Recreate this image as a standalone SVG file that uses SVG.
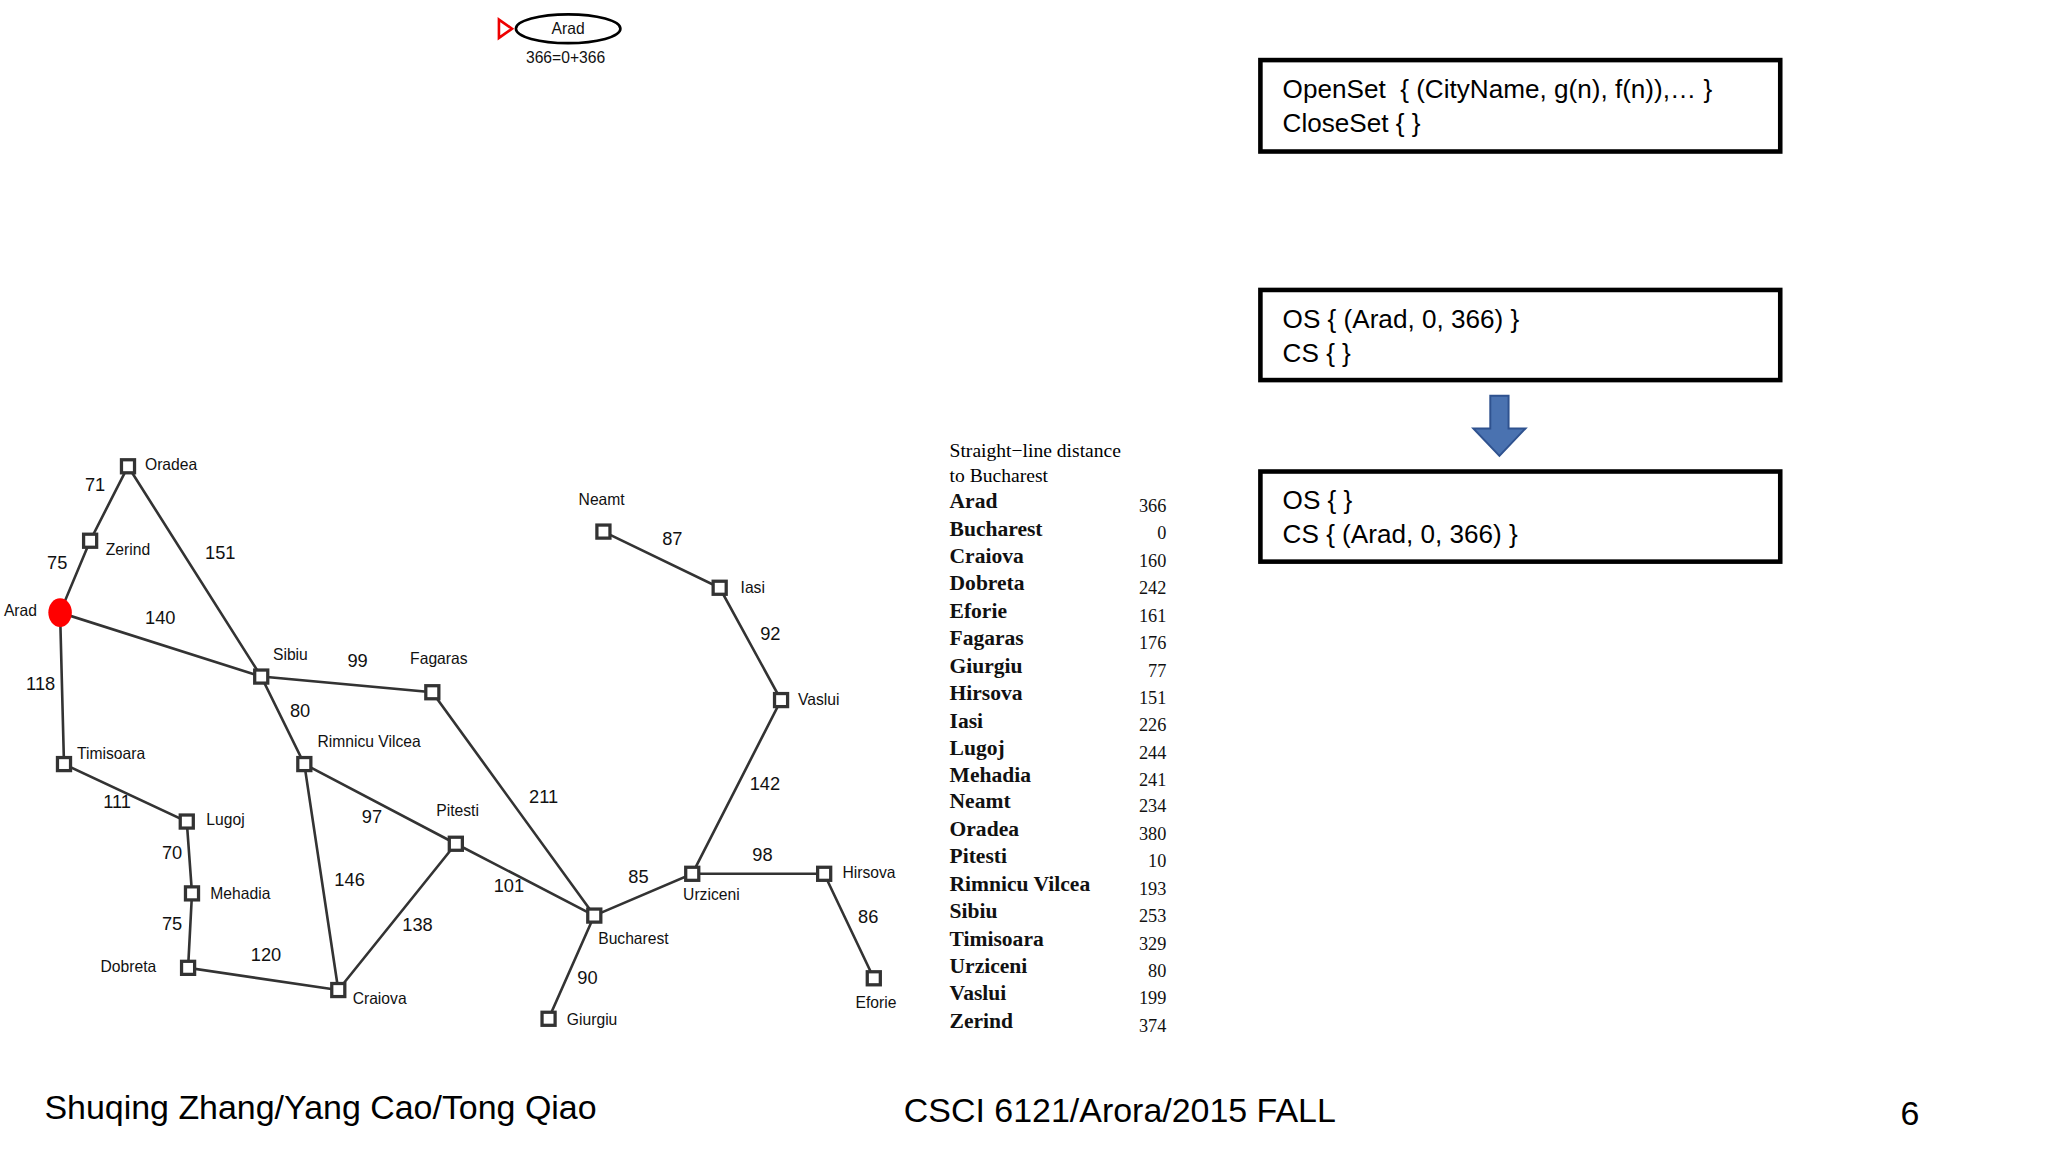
<svg xmlns="http://www.w3.org/2000/svg" width="2048" height="1152" viewBox="0 0 2048 1152">
<style>
.e{stroke:#333;stroke-width:2;fill:none}
.n{fill:#fff;stroke:#333;stroke-width:2.5}
.c{font-family:"Liberation Sans",Arial,sans-serif;font-size:12px;fill:#111}
.w{font-family:"Liberation Sans",Arial,sans-serif;font-size:14px;fill:#111}
.t{font-family:"Liberation Serif",serif;font-size:16.5px;font-weight:bold;fill:#111}
.v{font-family:"Liberation Serif",serif;font-size:14px;fill:#111;text-anchor:end}
.b{fill:#fff;stroke:#000;stroke-width:3.5}
.bt{font-family:"Liberation Sans",Arial,sans-serif;font-size:20px;fill:#000}
.f{font-family:"Liberation Sans",Arial,sans-serif;font-size:26px;fill:#000}
</style>
<rect width="2048" height="1152" fill="#fff"/>
<g transform="scale(1.30612)">
<g id="connectors">
<path class="e" d="M98,357L69,414L46,469L200,518L98,357M46,469L49,585L143,629L147,684L144,741L259,758L233,585L200,518L331,530L455,701L349,646L233,585M349,646L259,758M455,701L420,780M455,701L530,669L631,669L669,749M530,669L598,536L551,450L462,407"/>
</g>
<g id="edge-labels" class="w">
<text x="65" y="376">71</text><text x="36" y="436">75</text><text x="157" y="428">151</text>
<text x="111" y="478">140</text><text x="20" y="528">118</text><text x="266" y="511">99</text>
<text x="222" y="549">80</text><text x="79" y="619">111</text><text x="124" y="658">70</text>
<text x="124" y="712">75</text><text x="192" y="736">120</text><text x="256" y="678">146</text>
<text x="277" y="630">97</text><text x="308" y="713">138</text><text x="405" y="615">211</text>
<text x="378" y="683">101</text><text x="481" y="676">85</text><text x="442" y="753">90</text>
<text x="576" y="659">98</text><text x="657" y="707">86</text><text x="574" y="605">142</text>
<text x="582" y="490">92</text><text x="507" y="417">87</text>
</g>
<g id="cities">
<rect class="n" x="93" y="352" width="10" height="10"/><text class="c" x="111" y="360">Oradea</text>
<rect class="n" x="64" y="409" width="10" height="10"/><text class="c" x="81" y="425">Zerind</text>
<ellipse cx="46" cy="469" rx="9" ry="11" fill="#f00"/><text class="c" x="3" y="472">Arad</text>
<rect class="n" x="195" y="513" width="10" height="10"/><text class="c" x="209" y="505">Sibiu</text>
<rect class="n" x="326" y="525" width="10" height="10"/><text class="c" x="314" y="508">Fagaras</text>
<rect class="n" x="44" y="580" width="10" height="10"/><text class="c" x="59" y="581">Timisoara</text>
<rect class="n" x="228" y="580" width="10" height="10"/><text class="c" x="243" y="572">Rimnicu Vilcea</text>
<rect class="n" x="138" y="624" width="10" height="10"/><text class="c" x="158" y="632">Lugoj</text>
<rect class="n" x="344" y="641" width="10" height="10"/><text class="c" x="334" y="625">Pitesti</text>
<rect class="n" x="142" y="679" width="10" height="10"/><text class="c" x="161" y="688">Mehadia</text>
<rect class="n" x="139" y="736" width="10" height="10"/><text class="c" x="77" y="744">Dobreta</text>
<rect class="n" x="254" y="753" width="10" height="10"/><text class="c" x="270" y="769">Craiova</text>
<rect class="n" x="450" y="696" width="10" height="10"/><text class="c" x="458" y="723">Bucharest</text>
<rect class="n" x="415" y="775" width="10" height="10"/><text class="c" x="434" y="785">Giurgiu</text>
<rect class="n" x="525" y="664" width="10" height="10"/><text class="c" x="523" y="689">Urziceni</text>
<rect class="n" x="626" y="664" width="10" height="10"/><text class="c" x="645" y="672">Hirsova</text>
<rect class="n" x="664" y="744" width="10" height="10"/><text class="c" x="655" y="772">Eforie</text>
<rect class="n" x="593" y="531" width="10" height="10"/><text class="c" x="611" y="540">Vaslui</text>
<rect class="n" x="546" y="445" width="10" height="10"/><text class="c" x="567" y="454">Iasi</text>
<rect class="n" x="457" y="402" width="10" height="10"/><text class="c" x="443" y="387">Neamt</text>
</g>
<g id="sld-table">
<text x="727" y="350" style="font-family:'Liberation Serif',serif;font-size:15px">Straight−line distance</text>
<text x="727" y="369" style="font-family:'Liberation Serif',serif;font-size:15px">to Bucharest</text>
<g class="t">
<text x="727" y="389">Arad</text><text x="727" y="410">Bucharest</text><text x="727" y="431">Craiova</text><text x="727" y="452">Dobreta</text><text x="727" y="473">Eforie</text><text x="727" y="494">Fagaras</text><text x="727" y="515">Giurgiu</text><text x="727" y="536">Hirsova</text><text x="727" y="557">Iasi</text><text x="727" y="578">Lugoj</text><text x="727" y="599">Mehadia</text><text x="727" y="619">Neamt</text><text x="727" y="640">Oradea</text><text x="727" y="661">Pitesti</text><text x="727" y="682">Rimnicu Vilcea</text><text x="727" y="703">Sibiu</text><text x="727" y="724">Timisoara</text><text x="727" y="745">Urziceni</text><text x="727" y="766">Vaslui</text><text x="727" y="787">Zerind</text>
</g>
<g class="v">
<text x="893" y="392">366</text><text x="893" y="413">0</text><text x="893" y="434">160</text><text x="893" y="455">242</text><text x="893" y="476">161</text><text x="893" y="497">176</text><text x="893" y="518">77</text><text x="893" y="539">151</text><text x="893" y="560">226</text><text x="893" y="581">244</text><text x="893" y="602">241</text><text x="893" y="622">234</text><text x="893" y="643">380</text><text x="893" y="664">10</text><text x="893" y="685">193</text><text x="893" y="706">253</text><text x="893" y="727">329</text><text x="893" y="748">80</text><text x="893" y="769">199</text><text x="893" y="790">374</text>
</g>
</g>
<g id="tree-arad">
<path d="M382,15L392,22L382,29Z" fill="none" stroke="#e00" stroke-width="2"/>
<ellipse cx="435" cy="22" rx="40" ry="11" fill="#fff" stroke="#000" stroke-width="2"/>
<text class="c" x="435" y="26" text-anchor="middle">Arad</text>
<text class="c" x="433" y="48" text-anchor="middle">366=0+366</text>
</g>
<g id="box1"><rect class="b" x="965" y="46" width="398" height="70"/>
<text class="bt" x="982" y="75" xml:space="preserve">OpenSet  { (CityName, g(n), f(n)),… }</text><text class="bt" x="982" y="101">CloseSet { }</text></g>
<g id="box2"><rect class="b" x="965" y="222" width="398" height="69"/>
<text class="bt" x="982" y="251">OS { (Arad, 0, 366) }</text><text class="bt" x="982" y="277">CS { }</text></g>
<g id="arrow"><path d="M1141,303H1155V328H1168L1148,349L1128,328H1141Z" fill="#4a72b0" stroke="#2f528f" stroke-width="1.5"/></g>
<g id="box3"><rect class="b" x="965" y="361" width="398" height="69"/>
<text class="bt" x="982" y="390">OS { }</text><text class="bt" x="982" y="416">CS { (Arad, 0, 366) }</text></g>
<g id="footer">
<text class="f" x="34" y="857">Shuqing Zhang/Yang Cao/Tong Qiao</text>
<text class="f" x="692" y="859">CSCI 6121/Arora/2015 FALL</text>
<text class="f" x="1455" y="861">6</text>
</g>
</g>
</svg>
